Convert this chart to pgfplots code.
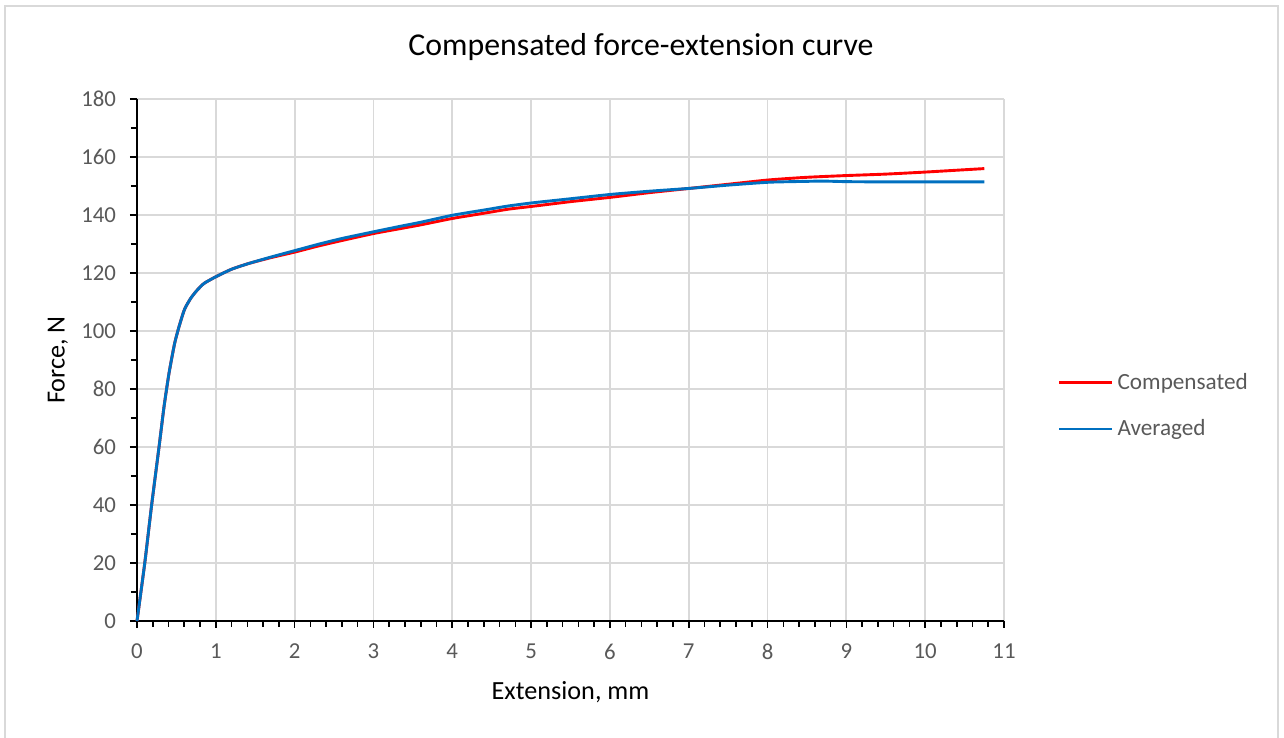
\documentclass[border=0pt]{standalone}
\usepackage{pgfplots}
\pgfplotsset{compat=1.18}
\usepackage{fontspec}
\setmainfont{Carlito}
\definecolor{tickgray}{HTML}{595959}
\definecolor{gridgray}{HTML}{D9D9D9}
\definecolor{xlred}{HTML}{FF0000}
\definecolor{xlblue}{HTML}{0070C0}
\begin{document}
\begin{tikzpicture}
\path[use as bounding box] (0,0) rectangle (642pt,369pt);
\draw[gridgray, line width=0.9pt] (2.5pt,-1pt) -- (2.5pt,366pt) -- (639pt,366pt) -- (639pt,-1pt);
\begin{axis}[
  at={(68.5pt,58.5pt)}, anchor=south west,
  scale only axis, width=433.5pt, height=261pt,
  xmin=0, xmax=11, ymin=0, ymax=180,
  xtick={0,1,...,11}, ytick={0,20,...,180},
  minor x tick num=4, minor y tick num=1,
  axis lines=left, axis line style={-, black, line width=0.9pt},
  tick align=outside, xtick pos=bottom, ytick pos=left,
  major tick length=3.5pt, minor tick length=3pt,
  tick style={black, line width=0.8pt},
  grid=major, major grid style={gridgray, line width=0.9pt},
  ticklabel style={font=\fontsize{11.4pt}{13pt}\selectfont, text=tickgray},
  xticklabel style={yshift=-4.5pt},
  yticklabel style={xshift=-3.5pt},
  /pgf/number format/assume math mode=true,
  legend style={at={(axis description cs:1.0615,0.412)}, anchor=west,
    draw=none, fill=none, font=\fontsize{11.6pt}{14pt}\selectfont, text=tickgray,
    row sep=9.5pt, inner sep=0pt, nodes={inner sep=2pt}},
  legend cell align=left,
  legend image code/.code={\draw[#1] (0pt,0pt) -- (26.5pt,0pt);},
  clip=false,
]
\addplot[xlred, line width=1.45pt, line join=round, smooth, tension=0.35] coordinates {
(0,0) (0.1,20.3) (0.183,39.4) (0.28,60.1) (0.343,73.9) (0.406,85.4) (0.478,95.8)
(0.542,102.3) (0.605,107.6) (0.68,111.2) (0.754,113.8) (0.85,116.4) (1.0,118.7)
(1.2,121.3) (1.42,123.3) (1.7,125.3) (2.0,127.2) (2.3,129.3) (2.6,131.2) (3.0,133.6)
(3.34,135.3) (3.6,136.6) (4.0,138.8) (4.4,140.6) (4.71,142.0) (5.02,143.0) (5.5,144.6)
(6.01,146.1) (6.5,147.7) (7.02,149.2) (7.5,150.6) (8.02,152.1) (8.5,153.0) (9.0,153.6)
(9.5,154.1) (10.0,154.8) (10.5,155.6) (10.75,156.0)
};
\addlegendentry{Compensated}
\addplot[xlblue, line width=1.45pt, line join=round, smooth, tension=0.35] coordinates {
(0,0) (0.1,20.3) (0.183,39.4) (0.28,60.1) (0.343,73.9) (0.406,85.4) (0.478,95.8)
(0.542,102.3) (0.605,107.6) (0.68,111.2) (0.754,113.8) (0.85,116.4) (1.0,118.7)
(1.2,121.3) (1.42,123.3) (1.7,125.5) (2.0,127.7) (2.3,129.9) (2.6,131.9) (3.0,134.2)
(3.34,136.1) (3.6,137.5) (4.0,139.9) (4.4,141.7) (4.71,143.1) (5.02,144.2) (5.5,145.6)
(6.01,147.1) (6.5,148.2) (7.02,149.2) (7.5,150.3) (8.02,151.3) (8.5,151.6) (8.7,151.7)
(9.0,151.5) (9.5,151.4) (10.0,151.4) (10.75,151.4)
};
\addlegendentry{Averaged}
\end{axis}
\node[font=\fontsize{15.9pt}{19pt}\selectfont] at (320.5pt,345.5pt) {Compensated force-extension curve};
\node[font=\fontsize{13.1pt}{16pt}\selectfont] at (285.25pt,23pt) {Extension, mm};
\node[font=\fontsize{13.1pt}{16pt}\selectfont, rotate=90] at (29pt,189pt) {Force, N};
\end{tikzpicture}
\end{document}
